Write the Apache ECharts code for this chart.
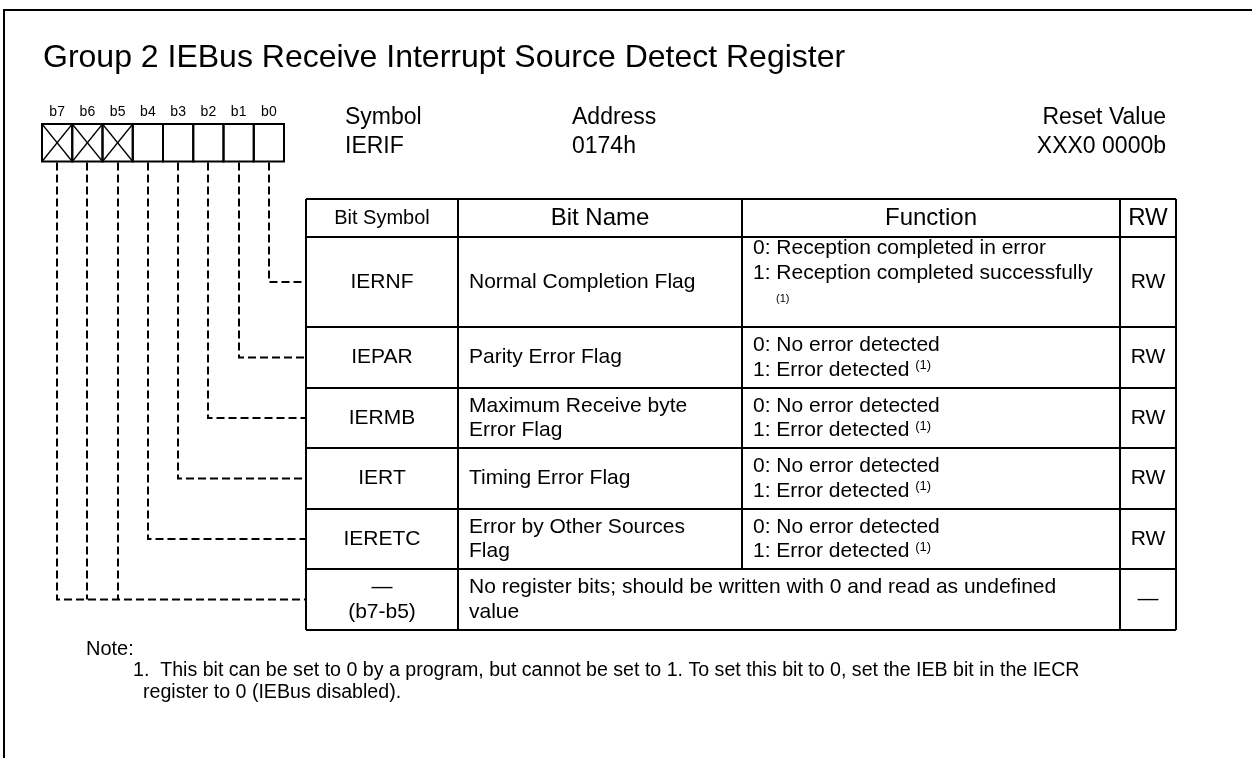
<!DOCTYPE html>
<html>
<head>
<meta charset="utf-8">
<script src="https://cdn.jsdelivr.net/npm/echarts@6/dist/echarts.min.js"></script>
<style>html,body{margin:0;padding:0;background:#fff}#main{width:1252px;height:758px}</style>
</head>
<body>
<div id="main"></div>
<script>
// ---- content ----
const titleText = 'Group 2 IEBus Receive Interrupt Source Detect Register';
const bitLabels = ['b7', 'b6', 'b5', 'b4', 'b3', 'b2', 'b1', 'b0'];
const reservedBits = [true, true, true, false, false, false, false, false];
// which table row each bit (b7..b0) is connected to
const bitRow = [5, 5, 5, 4, 3, 2, 1, 0];
const infoLabels = ['Symbol', 'Address', 'Reset Value'];
const infoValues = ['IERIF', '0174h', 'XXX0 0000b'];
const headers = ['Bit Symbol', 'Bit Name', 'Function', 'RW'];
const bitSymbols = [['IERNF'], ['IEPAR'], ['IERMB'], ['IERT'], ['IERETC'], ['\u2014', '(b7-b5)']];
const bitNames = [
  ['Normal Completion Flag'],
  ['Parity Error Flag'],
  ['Maximum Receive byte', 'Error Flag'],
  ['Timing Error Flag'],
  ['Error by Other Sources', 'Flag'],
  ['No register bits; should be written with 0 and read as undefined', 'value']
];
const functions = [
  ['0: Reception completed in error', '1: Reception completed successfully'],
  ['0: No error detected', '1: Error detected {s|(1)}'],
  ['0: No error detected', '1: Error detected {s|(1)}'],
  ['0: No error detected', '1: Error detected {s|(1)}'],
  ['0: No error detected', '1: Error detected {s|(1)}'],
  null
];
const rwValues = ['RW', 'RW', 'RW', 'RW', 'RW', '\u2014'];
const noteTitle = 'Note:';
const noteLines = [
  '1.  This bit can be set to 0 by a program, but cannot be set to 1. To set this bit to 0, set the IEB bit in the IECR',
  'register to 0 (IEBus disabled).'
];

// ---- layout ----
const FONT = '"Liberation Sans", Arial, Helvetica, sans-serif';
const colX = [306, 458, 742, 1120, 1176];
const rowY = [199, 237, 327, 388, 448, 509, 569, 630];
const boxX0 = 42, cellW = 30.25, boxY0 = 124, boxY1 = 161.5;

const els = [];
function text(x, y, t, size, align, extra) {
  const st = Object.assign({
    text: t, x: 0, y: 0, fill: '#000', fontSize: size, fontFamily: FONT,
    align: align || 'left', verticalAlign: 'middle',
    textAlign: align || 'left', textVerticalAlign: 'middle'
  }, extra || {});
  els.push({ type: 'text', x: x, y: y, style: st, silent: true });
}
function line(x1, y1, x2, y2, w, dash) {
  els.push({ type: 'line', shape: { x1, y1, x2, y2 }, silent: true,
    style: { stroke: '#000', lineWidth: w || 2, lineDash: dash || null } });
}
function poly(points, w, dash) {
  els.push({ type: 'polyline', shape: { points }, silent: true,
    style: { stroke: '#000', fill: null, lineWidth: w || 2, lineDash: dash || null } });
}

// outer frame
els.push({ type: 'rect', shape: { x: 4, y: 10, width: 1400, height: 900 }, silent: true,
  style: { fill: null, stroke: '#000', lineWidth: 2 } });

// title
text(43, 58, titleText, 32, 'left');

// bit boxes
bitLabels.forEach((b, i) => {
  const x0 = boxX0 + cellW * i;
  const cx = Math.round(x0 + cellW / 2);
  text(x0 + cellW / 2, 112, b, 14, 'center');
  els.push({ type: 'rect', shape: { x: x0, y: boxY0, width: cellW, height: boxY1 - boxY0 }, silent: true,
    style: { fill: null, stroke: '#000', lineWidth: 2 } });
  if (reservedBits[i]) {
    line(x0, boxY0, x0 + cellW, boxY1, 1.3);
    line(x0 + cellW, boxY0, x0, boxY1, 1.3);
  }
  const r = bitRow[i];
  const my = (rowY[r + 1] + rowY[r + 2]) / 2;
  const first = bitRow.indexOf(r) === i;
  if (first) poly([[cx, boxY1 + 1], [cx, my], [colX[0], my]], 2, [8, 4]);
  else line(cx, boxY1 + 1, cx, my, 2, [8, 4]);
});

// info block
text(345, 118, infoLabels[0], 23, 'left');
text(345, 147, infoValues[0], 23, 'left');
text(572, 118, infoLabels[1], 23, 'left');
text(572, 147, infoValues[1], 23, 'left');
text(1166, 118, infoLabels[2], 23, 'right');
text(1166, 147, infoValues[2], 23, 'right');

// table grid
rowY.forEach(y => line(colX[0], y, colX[4], y, 2));
line(colX[0], rowY[0], colX[0], rowY[7], 2);
line(colX[1], rowY[0], colX[1], rowY[7], 2);
line(colX[2], rowY[0], colX[2], rowY[6], 2);
line(colX[3], rowY[0], colX[3], rowY[7], 2);
line(colX[4], rowY[0], colX[4], rowY[7], 2);

// headers
const hy = (rowY[0] + rowY[1]) / 2;
const headerSizes = [20, 24, 24, 24];
headers.forEach((h, c) => text((colX[c] + colX[c + 1]) / 2, hy, h, headerSizes[c], 'center'));

// rows
const BODY = 21, LS = 24.5;
const rich = { s: { fontSize: 13, fontFamily: FONT, verticalAlign: 'top', fill: '#000' } };
bitSymbols.forEach((lines, r) => {
  const my = (rowY[r + 1] + rowY[r + 2]) / 2;
  const off = (lines.length - 1) * LS / 2;
  lines.forEach((t, k) => text((colX[0] + colX[1]) / 2, my - off + k * LS, t, BODY, 'center'));
  const nm = bitNames[r];
  const offN = (nm.length - 1) * LS / 2;
  nm.forEach((t, k) => text(colX[1] + 11, my - offN + k * LS, t, BODY, 'left'));
  const fn = functions[r];
  if (fn) {
    const baseY = r === 0 ? my - 34 : my - (fn.length - 1) * LS / 2;
    fn.forEach((t, k) => text(colX[2] + 11, baseY + k * (r === 0 ? 25.5 : LS), t, BODY, 'left', { rich }));
    if (r === 0) text(colX[2] + 34, baseY + 51, '(1)', 11, 'left');
  }
  text((colX[3] + colX[4]) / 2, my, rwValues[r], BODY, 'center');
});

// note
text(86, 649, noteTitle, 20, 'left');
text(133, 671, noteLines[0], 19.6, 'left');
text(143, 693, noteLines[1], 19.6, 'left');

const chart = echarts.init(document.getElementById('main'), null, { renderer: 'canvas' });
chart.setOption({ animation: false, backgroundColor: '#fff', graphic: { elements: els } });
</script>
</body>
</html>
